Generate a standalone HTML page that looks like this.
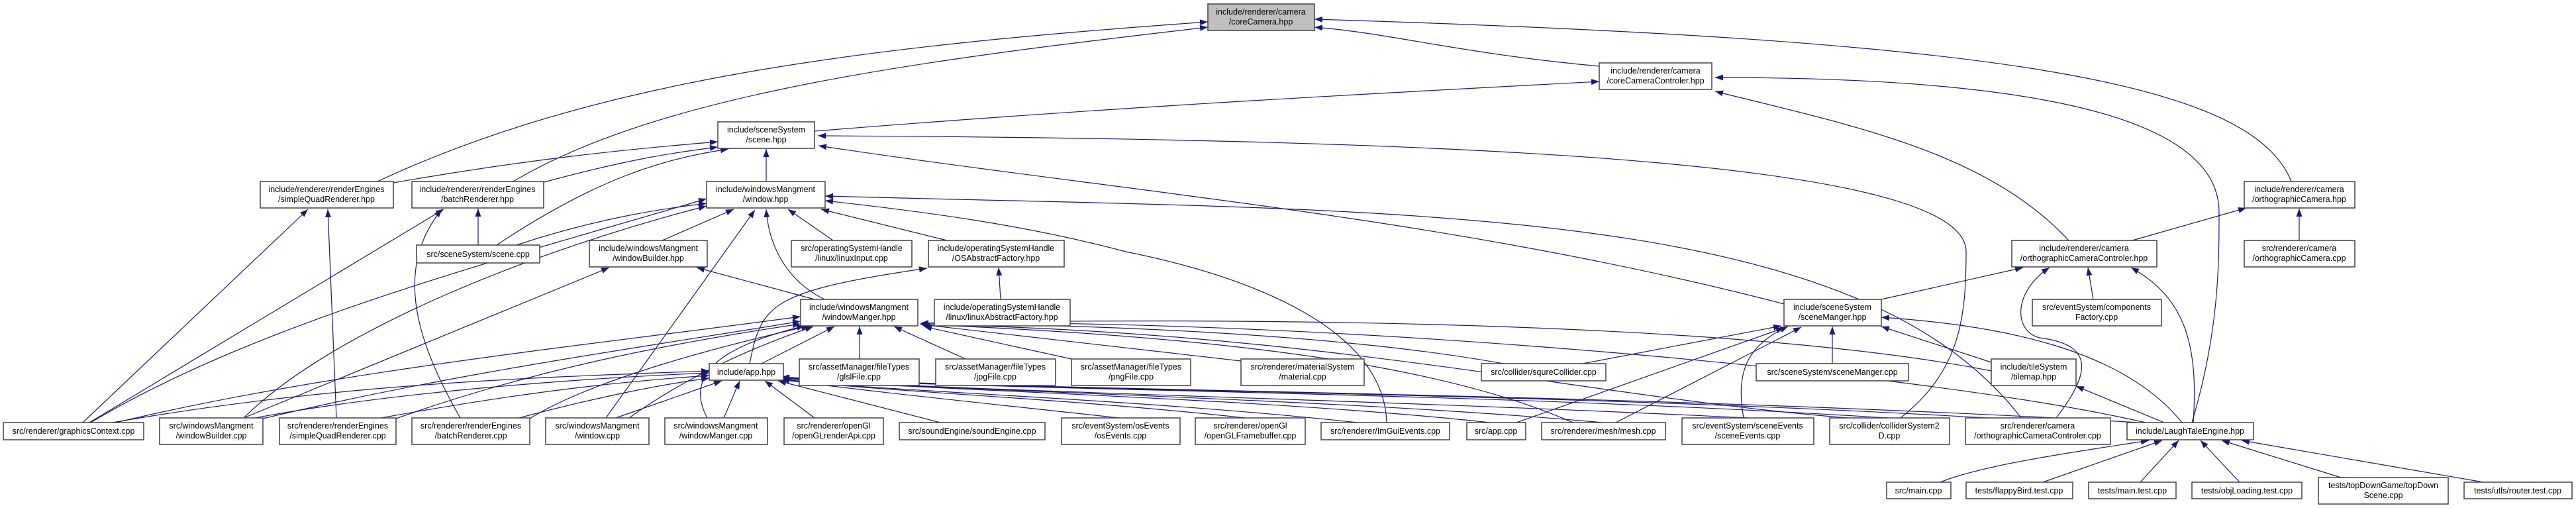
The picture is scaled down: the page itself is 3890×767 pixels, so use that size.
<!DOCTYPE html>
<html><head><meta charset="utf-8"><style>
html,body{margin:0;padding:0;background:#fff;}
svg{display:block;}
text{font-family:"Liberation Sans",Arial,sans-serif;font-size:12.5px;fill:#000;text-anchor:middle;}
.n{fill:#fff;stroke:#404040;stroke-width:1.5;}
.e{fill:none;stroke:#191970;stroke-width:1.2;}
</style></head><body>
<svg width="3890" height="767" viewBox="0 0 3890 767" xmlns="http://www.w3.org/2000/svg">
<defs>
<marker id="a" markerUnits="userSpaceOnUse" markerWidth="12" markerHeight="9" refX="12" refY="4.5" orient="auto">
<path d="M0,0 L12,4.5 L0,9 z" fill="#191970"/>
</marker>
</defs>
<g class="e" marker-end="url(#a)">
<!-- to coreCamera -->
<path d="M570,274 C900,120 1300,70 1824,33"/>
<path d="M775,274 C1000,140 1400,90 1824,41"/>
<path d="M2415,100 C2200,80 2100,50 1985,41"/>
<path d="M3460,274 C3400,120 3000,60 1985,29"/>
<!-- to scene.hpp -->
<path d="M594,276 C800,240 950,225 1084,214"/>
<path d="M818,276 C950,240 1020,230 1084,222"/>
<path d="M750,370 C900,270 1000,240 1100,225"/>
<path d="M1157,274 L1157,225"/>
<path d="M2870,631 C2960,560 2969,480 2969,380 C2969,250 2300,210 1235,205"/>
<path d="M2694,459 C2200,330 1700,290 1236,220"/>
<!-- coreCameraControler -->
<path d="M1230,198 C1700,160 2100,140 2415,123"/>
<path d="M3310,638 C3351,500 3351,400 3351,320 C3351,160 3000,117 2590,117"/>
<path d="M3124,363 C3000,230 2800,190 2590,138"/>
<!-- orthographic -->
<path d="M3220,363 L3392,314"/>
<path d="M3472,363 L3472,315"/>
<path d="M2841,452 L3055,404"/>
<path d="M3105,631 C3160,560 3160,520 3080,510 C3040,500 3040,440 3095,404"/>
<path d="M3161,452 L3153,404"/>
<path d="M3312,638 C3320,520 3300,450 3218,404"/>
<!-- window.hpp -->
<path d="M3052,631 C2800,300 2100,320 1246,296"/>
<path d="M2094,638 C2090,500 1900,420 1700,380 C1550,340 1400,320 1246,303"/>
<path d="M780,370 C900,330 1000,315 1067,307"/>
<path d="M1000,363 L1108,316"/>
<path d="M915,631 L1140,317"/>
<path d="M1245,452 C1180,420 1160,360 1157,316"/>
<path d="M1258,363 L1190,316"/>
<path d="M1430,363 L1240,316"/>
<path d="M368,631 C500,500 800,380 1067,311"/>
<path d="M137,638 C400,480 800,380 1067,300"/>
<!-- renderer engines -->
<path d="M125,638 L465,316"/>
<path d="M508,631 L495,316"/>
<path d="M135,638 L670,316"/>
<path d="M695,631 C620,500 600,400 667,316"/>
<path d="M722,370 L722,315"/>
<!-- windowBuilder / OS -->
<path d="M1230,452 L1052,404"/>
<path d="M368,631 L920,404"/>
<path d="M1132,549 C1150,460 1160,440 1400,405"/>
<path d="M1511,452 L1508,404"/>
<!-- to windowManger.hpp -->
<path d="M1150,549 L1260,493"/>
<path d="M1298,542 L1298,493"/>
<path d="M1458,542 L1350,493"/>
<path d="M1618,542 L1395,493"/>
<path d="M1874,545 L1392,490"/>
<path d="M1068,631 C1030,560 1100,520 1215,492"/>
<path d="M175,638 C500,560 900,520 1209,478"/>
<path d="M397,632 C700,560 1000,520 1209,485"/>
<path d="M598,632 C800,560 1000,520 1209,489"/>
<path d="M800,632 C900,570 1100,520 1222,492"/>
<path d="M950,631 C1050,560 1150,520 1228,493"/>
<path d="M2270,549 C2000,500 1600,490 1390,488"/>
<path d="M3240,638 C2900,560 2000,480 1390,488"/>
<path d="M3007,560 C2600,480 1800,480 1390,488"/>
<path d="M2375,638 C2200,560 1900,510 1390,490"/>
<path d="M2790,631 C2400,600 2000,500 1390,490"/>
<!-- to app.hpp -->
<path d="M170,638 C500,580 800,570 1071,560"/>
<path d="M380,632 C600,590 900,570 1071,563"/>
<path d="M570,632 C800,590 950,575 1071,567"/>
<path d="M780,632 C900,600 1000,580 1071,571"/>
<path d="M930,631 L1090,575"/>
<path d="M1093,631 L1117,575"/>
<path d="M1230,631 L1155,575"/>
<path d="M1420,638 L1175,575"/>
<path d="M1690,631 C1500,610 1300,590 1180,573"/>
<path d="M1880,631 C1600,600 1300,590 1180,572"/>
<path d="M2050,638 C1700,600 1300,590 1180,572"/>
<path d="M2250,638 C1900,600 1400,590 1180,571"/>
<path d="M2420,638 C2000,600 1400,590 1180,571"/>
<path d="M2640,631 C2000,600 1400,590 1180,570"/>
<path d="M2850,631 C2200,590 1500,590 1180,570"/>
<path d="M3000,631 C2300,590 1500,590 1180,570"/>
<path d="M3230,638 C2400,590 1500,590 1180,569"/>
<!-- to sceneManger.hpp -->
<path d="M2767,549 L2767,493"/>
<path d="M2390,549 L2690,492"/>
<path d="M2290,638 L2694,495"/>
<path d="M2440,638 L2720,494"/>
<path d="M2633,631 C2620,560 2640,520 2700,493"/>
<path d="M3007,547 L2841,493"/>
<path d="M3295,638 C3200,520 3000,490 2841,479"/>
<path d="M3268,638 L3135,583"/>
<!-- to LaughTaleEngine -->
<path d="M2930,728 C3000,700 3150,680 3245,665"/>
<path d="M3085,728 L3265,665"/>
<path d="M3232,728 L3290,665"/>
<path d="M3382,728 L3323,665"/>
<path d="M3535,721 L3355,665"/>
<path d="M3750,728 L3385,665"/>
</g>
<g>
<rect class="n" x="1824" y="6" width="161" height="40" style="fill:#bfbfbf"/><text x="1904" y="22">include/renderer/camera</text><text x="1904" y="37">/coreCamera.hpp</text>
<rect class="n" x="2415" y="95" width="170" height="40"/><text x="2500" y="111">include/renderer/camera</text><text x="2500" y="126">/coreCameraControler.hpp</text>
<rect class="n" x="1084" y="184" width="146" height="40"/><text x="1157" y="200">include/sceneSystem</text><text x="1157" y="215">/scene.hpp</text>
<rect class="n" x="393" y="274" width="201" height="40"/><text x="493" y="290">include/renderer/renderEngines</text><text x="493" y="305">/simpleQuadRenderer.hpp</text>
<rect class="n" x="622" y="274" width="199" height="40"/><text x="721" y="290">include/renderer/renderEngines</text><text x="721" y="305">/batchRenderer.hpp</text>
<rect class="n" x="1067" y="274" width="179" height="40"/><text x="1156" y="290">include/windowsMangment</text><text x="1156" y="305">/window.hpp</text>
<rect class="n" x="3389" y="274" width="167" height="40"/><text x="3472" y="290">include/renderer/camera</text><text x="3472" y="305">/orthographicCamera.hpp</text>
<rect class="n" x="629" y="370" width="186" height="27"/><text x="722" y="388">src/sceneSystem/scene.cpp</text>
<rect class="n" x="890" y="363" width="178" height="40"/><text x="979" y="379">include/windowsMangment</text><text x="979" y="394">/windowBuilder.hpp</text>
<rect class="n" x="1195" y="363" width="182" height="40"/><text x="1286" y="379">src/operatingSystemHandle</text><text x="1286" y="394">/linux/linuxInput.cpp</text>
<rect class="n" x="1402" y="363" width="205" height="40"/><text x="1504" y="379">include/operatingSystemHandle</text><text x="1504" y="394">/OSAbstractFactory.hpp</text>
<rect class="n" x="3038" y="363" width="219" height="40"/><text x="3147" y="379">include/renderer/camera</text><text x="3147" y="394">/orthographicCameraControler.hpp</text>
<rect class="n" x="3389" y="363" width="167" height="40"/><text x="3472" y="379">src/renderer/camera</text><text x="3472" y="394">/orthographicCamera.cpp</text>
<rect class="n" x="1209" y="452" width="177" height="40"/><text x="1297" y="468">include/windowsMangment</text><text x="1297" y="483">/windowManger.hpp</text>
<rect class="n" x="1411" y="452" width="205" height="40"/><text x="1513" y="468">include/operatingSystemHandle</text><text x="1513" y="483">/linux/linuxAbstractFactory.hpp</text>
<rect class="n" x="2694" y="452" width="147" height="40"/><text x="2767" y="468">include/sceneSystem</text><text x="2767" y="483">/sceneManger.hpp</text>
<rect class="n" x="3069" y="452" width="195" height="40"/><text x="3166" y="468">src/eventSystem/components</text><text x="3166" y="483">Factory.cpp</text>
<rect class="n" x="1071" y="549" width="112" height="25"/><text x="1127" y="566">include/app.hpp</text>
<rect class="n" x="1207" y="542" width="181" height="40"/><text x="1297" y="558">src/assetManager/fileTypes</text><text x="1297" y="573">/glslFile.cpp</text>
<rect class="n" x="1413" y="542" width="181" height="40"/><text x="1503" y="558">src/assetManager/fileTypes</text><text x="1503" y="573">/jpgFile.cpp</text>
<rect class="n" x="1618" y="542" width="180" height="40"/><text x="1708" y="558">src/assetManager/fileTypes</text><text x="1708" y="573">/pngFile.cpp</text>
<rect class="n" x="1874" y="542" width="186" height="40"/><text x="1967" y="558">src/renderer/materialSystem</text><text x="1967" y="573">/material.cpp</text>
<rect class="n" x="2237" y="549" width="188" height="26"/><text x="2331" y="566">src/collider/squreCollider.cpp</text>
<rect class="n" x="2652" y="549" width="230" height="26"/><text x="2767" y="566">src/sceneSystem/sceneManger.cpp</text>
<rect class="n" x="3007" y="542" width="128" height="40"/><text x="3071" y="558">include/tileSystem</text><text x="3071" y="573">/tilemap.hpp</text>
<rect class="n" x="5" y="638" width="212" height="26"/><text x="111" y="655">src/renderer/graphicsContext.cpp</text>
<rect class="n" x="241" y="631" width="156" height="40"/><text x="319" y="647">src/windowsMangment</text><text x="319" y="662">/windowBuilder.cpp</text>
<rect class="n" x="422" y="631" width="176" height="40"/><text x="510" y="647">src/renderer/renderEngines</text><text x="510" y="662">/simpleQuadRenderer.cpp</text>
<rect class="n" x="622" y="631" width="178" height="40"/><text x="711" y="647">src/renderer/renderEngines</text><text x="711" y="662">/batchRenderer.cpp</text>
<rect class="n" x="824" y="631" width="156" height="40"/><text x="902" y="647">src/windowsMangment</text><text x="902" y="662">/window.cpp</text>
<rect class="n" x="1004" y="631" width="155" height="40"/><text x="1081" y="647">src/windowsMangment</text><text x="1081" y="662">/windowManger.cpp</text>
<rect class="n" x="1184" y="631" width="150" height="40"/><text x="1259" y="647">src/renderer/openGl</text><text x="1259" y="662">/openGLrenderApi.cpp</text>
<rect class="n" x="1358" y="638" width="220" height="26"/><text x="1468" y="655">src/soundEngine/soundEngine.cpp</text>
<rect class="n" x="1603" y="631" width="179" height="40"/><text x="1692" y="647">src/eventSystem/osEvents</text><text x="1692" y="662">/osEvents.cpp</text>
<rect class="n" x="1805" y="631" width="166" height="40"/><text x="1888" y="647">src/renderer/openGl</text><text x="1888" y="662">/openGLFramebuffer.cpp</text>
<rect class="n" x="1995" y="638" width="194" height="26"/><text x="2092" y="655">src/renderer/ImGuiEvents.cpp</text>
<rect class="n" x="2215" y="638" width="89" height="26"/><text x="2259" y="655">src/app.cpp</text>
<rect class="n" x="2328" y="638" width="187" height="26"/><text x="2421" y="655">src/renderer/mesh/mesh.cpp</text>
<rect class="n" x="2540" y="631" width="199" height="40"/><text x="2639" y="647">src/eventSystem/sceneEvents</text><text x="2639" y="662">/sceneEvents.cpp</text>
<rect class="n" x="2763" y="631" width="181" height="40"/><text x="2853" y="647">src/collider/colliderSystem2</text><text x="2853" y="662">D.cpp</text>
<rect class="n" x="2968" y="631" width="219" height="40"/><text x="3077" y="647">src/renderer/camera</text><text x="3077" y="662">/orthographicCameraControler.cpp</text>
<rect class="n" x="3212" y="638" width="191" height="26"/><text x="3307" y="655">include/LaughTaleEngine.hpp</text>
<rect class="n" x="2849" y="728" width="97" height="25"/><text x="2897" y="745">src/main.cpp</text>
<rect class="n" x="2969" y="728" width="161" height="25"/><text x="3049" y="745">tests/flappyBird.test.cpp</text>
<rect class="n" x="3154" y="728" width="132" height="25"/><text x="3220" y="745">tests/main.test.cpp</text>
<rect class="n" x="3310" y="728" width="166" height="25"/><text x="3393" y="745">tests/objLoading.test.cpp</text>
<rect class="n" x="3501" y="721" width="196" height="40"/><text x="3599" y="737">tests/topDownGame/topDown</text><text x="3599" y="752">Scene.cpp</text>
<rect class="n" x="3721" y="728" width="163" height="25"/><text x="3802" y="745">tests/utls/router.test.cpp</text>
</g>
</svg>
</body></html>
